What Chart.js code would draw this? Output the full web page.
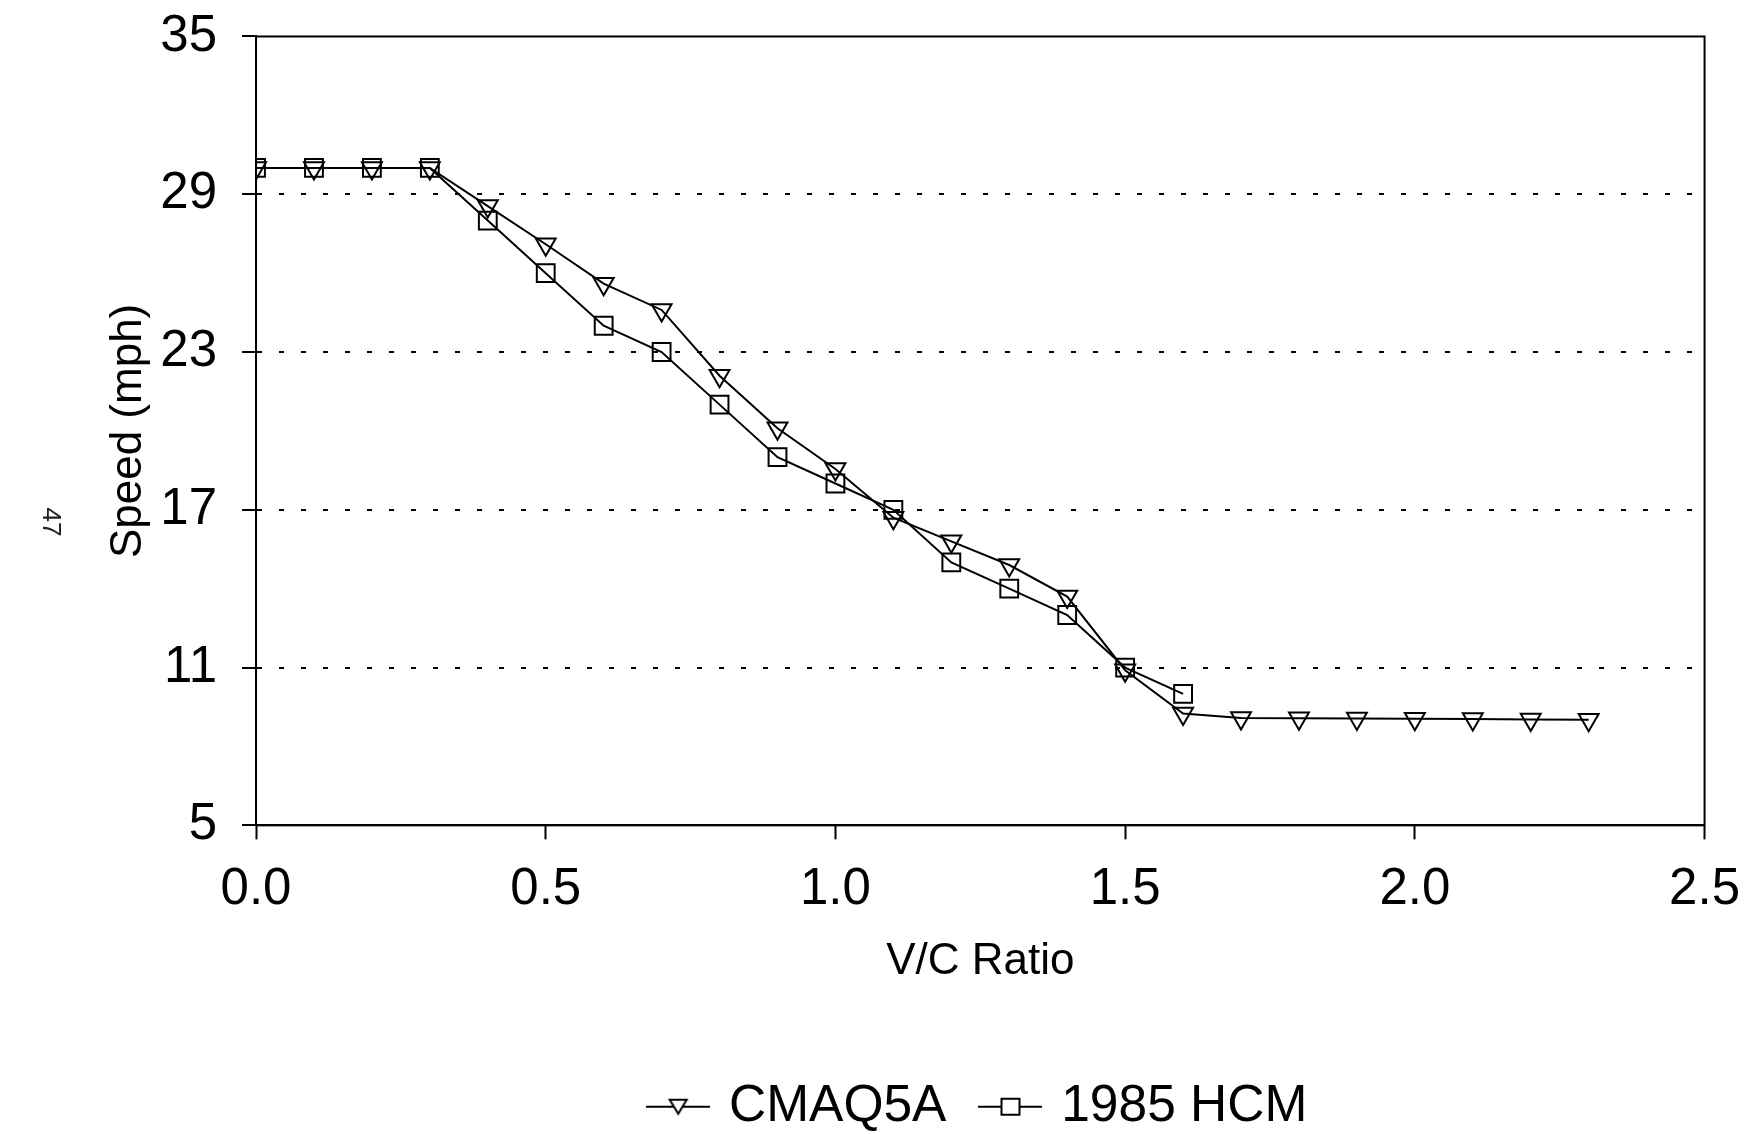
<!DOCTYPE html>
<html>
<head>
<meta charset="utf-8">
<script src="https://cdn.jsdelivr.net/npm/chart.js@4/dist/chart.umd.min.js"></script>
<style>
  html, body { margin: 0; padding: 0; background: #ffffff; }
  #wrap { width: 1744px; height: 1134px; }
  canvas { display: block; }
</style>
</head>
<body>
<div id="wrap"><canvas id="c" width="1744" height="1134"></canvas></div>
<script>
// ---- data ----
const vcRatio = [0.0, 0.1, 0.2, 0.3, 0.4, 0.5, 0.6, 0.7, 0.8, 0.9, 1.0, 1.1,
                 1.2, 1.3, 1.4, 1.5, 1.6, 1.7, 1.8, 1.9, 2.0, 2.1, 2.2, 2.3];
const cmaq5a = [30, 30, 30, 30, 28.55, 27.1, 25.6, 24.6, 22.1, 20.1, 18.55, 16.7,
                15.8, 14.9, 13.7, 10.9, 9.25, 9.08, 9.07, 9.06, 9.05, 9.04, 9.03, 9.02];
const hcm1985 = [30, 30, 30, 30, 28.0, 26.0, 24.0, 23.0, 21.0, 19.0, 18.0, 17.0,
                 15.0, 14.0, 13.0, 11.0, 10.0];
const yTicks = [5, 11, 17, 23, 29, 35];
const xTicks = [0.0, 0.5, 1.0, 1.5, 2.0, 2.5];
const seriesNames = ['CMAQ5A', '1985 HCM'];
const xTitle = 'V/C Ratio';
const yTitle = 'Speed (mph)';
const pageNumber = '47';

const FONT = "'Liberation Sans', Arial, Helvetica, sans-serif";

function legendIcon(kind) {
  const cv = document.createElement('canvas');
  cv.width = 64; cv.height = 26;
  const g = cv.getContext('2d');
  g.strokeStyle = '#000'; g.lineWidth = 2;
  g.beginPath(); g.moveTo(0, 13); g.lineTo(64, 13); g.stroke();
  g.fillStyle = '#fff';
  g.beginPath();
  if (kind === 'tri') {
    g.moveTo(23.5, 6); g.lineTo(40.5, 6); g.lineTo(32, 20); g.closePath();
  } else {
    g.rect(23, 5, 18, 16);
  }
  g.fill(); g.stroke();
  return cv;
}
const icons = [legendIcon('tri'), legendIcon('sq')];

const framePlugin = {
  id: 'frame',
  beforeDatasetsDraw(chart) {
    const a = chart.chartArea, c = chart.ctx;
    c.save();
    c.strokeStyle = '#000'; c.lineWidth = 2;
    c.strokeRect(a.left, a.top, a.right - a.left, a.bottom - a.top);
    c.restore();
  },
  afterDraw(chart) {
    const c = chart.ctx;
    c.save();
    c.translate(50, 522);
    c.rotate(Math.PI / 2);
    c.font = '26px ' + FONT;
    c.fillStyle = '#222';
    c.textAlign = 'center';
    c.textBaseline = 'middle';
    c.fillText(pageNumber, 0, 0);
    c.restore();
  }
};

const gridColor = (ctx) => {
  const v = ctx.tick ? ctx.tick.value : null;
  return (v === yTicks[0] || v === yTicks[yTicks.length - 1]) ? 'rgba(0,0,0,0)' : '#000';
};

new Chart(document.getElementById('c').getContext('2d'), {
  type: 'line',
  data: {
    datasets: [
      {
        label: seriesNames[0],
        data: vcRatio.map((x, i) => ({ x: x, y: cmaq5a[i] })),
        borderColor: '#000', borderWidth: 2, tension: 0, fill: false,
        pointStyle: 'triangle', pointRotation: 180, pointRadius: 11.5,
        pointBorderWidth: 2, pointBorderColor: '#000',
        pointBackgroundColor: 'rgba(0,0,0,0)'
      },
      {
        label: seriesNames[1],
        data: hcm1985.map((y, i) => ({ x: vcRatio[i], y: y })),
        borderColor: '#000', borderWidth: 2, tension: 0, fill: false,
        pointStyle: 'rect', pointRadius: 12.6,
        pointBorderWidth: 2, pointBorderColor: '#000',
        pointBackgroundColor: 'rgba(0,0,0,0)'
      }
    ]
  },
  options: {
    responsive: false,
    animation: false,
    devicePixelRatio: 1,
    layout: { padding: { left: 98, right: 20, top: 10, bottom: 0 } },
    scales: {
      x: {
        type: 'linear', min: 0, max: 2.5,
        afterBuildTicks: (s) => { s.ticks = xTicks.map(v => ({ value: v })); },
        ticks: {
          font: { family: FONT, size: 51, lineHeight: 1.84 }, color: '#000', padding: 4,
          maxRotation: 0, autoSkip: false,
          callback: (v) => Number(v).toFixed(1)
        },
        grid: { drawOnChartArea: false, drawTicks: true, tickLength: 14, tickColor: '#000', tickWidth: 2, color: '#000' },
        border: { display: true, color: '#000', width: 2 },
        title: {
          display: true, text: xTitle, color: '#000',
          font: { family: FONT, size: 44 },
          padding: { top: -6, bottom: 54 }
        }
      },
      y: {
        type: 'linear', min: 5, max: 35,
        afterBuildTicks: (s) => { s.ticks = yTicks.map(v => ({ value: v })); },
        ticks: {
          font: { family: FONT, size: 51, lineHeight: 0.45 }, color: '#000', padding: 25,
          callback: (v) => String(v)
        },
        grid: {
          drawOnChartArea: true, drawTicks: true, tickLength: 14,
          tickColor: '#000', tickWidth: 2, tickBorderDash: [],
          color: gridColor, lineWidth: 2, borderDash: [5, 17]
        },
        border: { display: true, color: '#000', width: 2, dash: [5, 17] },
        title: {
          display: true, text: yTitle, color: '#000',
          font: { family: FONT, size: 44 },
          padding: { top: 4, bottom: -19.5 }
        }
      }
    },
    plugins: {
      legend: {
        position: 'bottom', fullSize: false, maxHeight: 92,
        labels: {
          usePointStyle: true, pointStyleWidth: 50,
          font: { family: FONT, size: 51.5 }, color: '#000', padding: 39,
          generateLabels: (chart) => chart.data.datasets.map((ds, i) => ({
            text: ds.label, pointStyle: icons[i], fillStyle: '#fff',
            strokeStyle: '#000', lineWidth: 0, hidden: false,
            datasetIndex: i, fontColor: '#000'
          }))
        }
      },
      tooltip: { enabled: false }
    }
  },
  plugins: [framePlugin]
});
</script>
</body>
</html>
